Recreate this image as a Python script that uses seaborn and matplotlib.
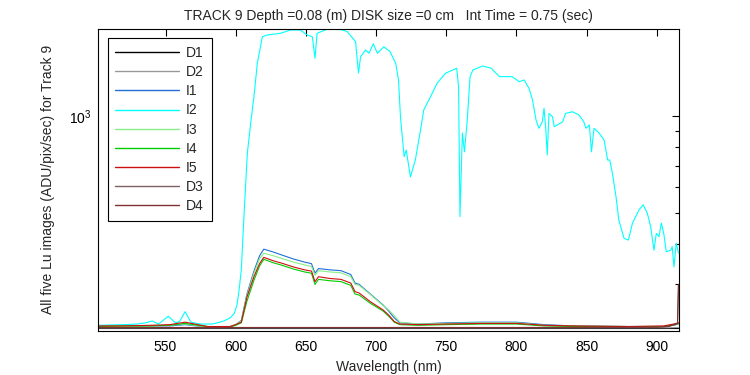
import numpy as np
import pandas as pd
import matplotlib
matplotlib.use('Agg')
import matplotlib.pyplot as plt
import matplotlib.ticker as mticker
import seaborn as sns

# Datos (longitud de onda en nm, senal en ADU/pix/sec)
wl_i2 = [502, 520, 530, 536, 540.5, 545, 552, 557, 560, 564, 568, 575, 583, 587, 591.5,
         596, 599, 601, 602.5, 604, 606, 608.3, 610.7, 613, 615.4, 619, 622.6, 632, 639,
         646, 651, 654.6, 656.5, 658, 665, 675, 679.5, 685.4, 686.6, 687.5, 689, 692.5,
         695, 698, 701, 705.5, 710, 714, 716, 717.4, 720, 721.5, 724.5, 728, 731.7, 734,
         738.8, 743.5, 749.5, 757.5, 758.8, 759.8, 761.5, 763, 765, 767, 769, 776, 782,
         788, 797, 802, 805.5, 809, 811.5, 814, 816, 818.5, 819.7, 821, 822, 823.2, 825.7,
         827, 833, 835, 840, 844.6, 848, 849.5, 852, 853.5, 855.3, 859, 862.5, 865, 866.5,
         868.4, 871, 873, 876.7, 879.8, 882.7, 887.4, 890.3, 893.3, 895.7, 898, 899.7,
         901.6, 903.3, 905, 906.8, 909.9, 911, 912.3, 913.9, 915.5]
i2 = [224, 225, 226, 228, 231, 226, 239, 228, 230, 247, 229, 226, 226, 228, 231,
      236, 244, 260, 290, 333, 500, 767, 951, 1148, 1458, 1763, 1785, 1807, 1849,
      1849, 1785, 1763, 1511, 1807, 1858, 1855, 1828, 1702, 1493, 1360, 1528, 1603,
      1566, 1675, 1566, 1641, 1584, 1458, 1294, 995, 748, 784, 647, 730, 905, 1044,
      1148, 1264, 1358, 1407, 1233, 487, 885, 774, 972, 1325, 1390, 1430, 1407,
      1325, 1325, 1278, 1294, 1219, 1121, 972, 916, 960, 1057, 905, 757, 1019, 995,
      926, 960, 1019, 1031, 1007, 960, 916, 938, 774, 916, 885, 842, 730, 730,
      664, 561, 475, 417, 412, 465, 511, 530, 499, 453, 383, 432,
      422, 465, 432, 379, 383, 393, 340, 403, 375]

wl_sig = [502, 520, 540, 553, 564, 580, 596, 600, 604, 608, 613, 617, 620, 627, 633, 641,
          649, 654, 656.5, 659, 667, 675, 682, 685, 688, 696, 705, 709, 713, 717, 730, 750,
          775, 800, 820, 840, 880, 905, 912, 915.5]
i1 = [222, 222, 223, 223, 225, 221, 222, 225, 232, 280, 330, 368, 386, 378, 370, 360,
      352, 348, 325, 336, 333, 331, 322, 303, 300, 280, 259, 248, 236, 228, 226, 228,
      229, 229, 225, 223, 222, 222, 224, 226]
i3 = [222, 222, 223, 224, 226, 221, 222, 225, 231, 277, 325, 360, 375, 368, 361, 352,
      345, 341, 320, 331, 328, 326, 317, 300, 298, 279, 258, 250, 240, 229, 226, 227,
      228, 228, 224, 223, 222, 222, 224, 226]
i4 = [222, 223, 223, 224, 227, 222, 221, 224, 228, 266, 309, 342, 359, 350, 344, 335,
      328, 325, 300, 311, 308, 306, 298, 280, 278, 262, 248, 239, 229, 225, 224, 225,
      226, 226, 223, 222, 222, 222, 225, 227]
i5 = [223, 223, 224, 225, 229, 222, 222, 225, 229, 274, 317, 348, 364, 355, 349, 340,
      333, 330, 306, 317, 313, 311, 303, 285, 282, 265, 250, 241, 230, 226, 225, 226,
      227, 227, 224, 223, 222, 223, 226, 228]

wl_dark = [502, 600, 700, 800, 900, 908, 914.8, 915.5]
d1 = [219.5, 219.5, 219.5, 219.5, 219.5, 219.5, 219.5, 219.5]
d2 = [220, 220, 220, 220, 220, 220, 220.5, 220.5]
d3 = [220, 220, 220, 220, 220.5, 222, 226, 300]
d4 = [220.5, 220.5, 220.5, 220.5, 221, 222, 227, 300]

orden = ['D1', 'D2', 'I1', 'I2', 'I3', 'I4', 'I5', 'D3', 'D4']
colores = ['#000000', '#999999', '#2070d8', '#00ffff', '#88ee88',
           '#00cc00', '#cc1010', '#806060', '#803030']

# Tabla larga para seaborn
series = {'D1': (wl_dark, d1), 'D2': (wl_dark, d2), 'I1': (wl_sig, i1), 'I2': (wl_i2, i2),
          'I3': (wl_sig, i3), 'I4': (wl_sig, i4), 'I5': (wl_sig, i5),
          'D3': (wl_dark, d3), 'D4': (wl_dark, d4)}
df = pd.concat([pd.DataFrame({'wl': x, 'val': y, 'serie': k}) for k, (x, y) in series.items()],
               ignore_index=True)

sns.set_style('white')
plt.rcParams['font.family'] = ['Liberation Sans', 'DejaVu Sans']
plt.rcParams['mathtext.fontset'] = 'custom'
plt.rcParams['mathtext.rm'] = 'Liberation Sans'

fig = plt.figure(figsize=(7.5, 3.75), dpi=100)
ax = fig.add_axes([0.1307, 0.1173, 0.7747, 0.8062])
sns.lineplot(data=df, x='wl', y='val', hue='serie', hue_order=orden,
             palette=dict(zip(orden, colores)), linewidth=0.8, sort=False,
             estimator=None, ax=ax)

ax.set_yscale('log')
ax.set_xlim(501.9, 915.9)
ax.set_ylim(215, 1867)
ax.set_xticks([550, 600, 650, 700, 750, 800, 850, 900])
ax.yaxis.set_major_locator(mticker.LogLocator(base=10))
ax.yaxis.set_minor_locator(mticker.LogLocator(base=10, subs=np.arange(2, 10)))
ax.yaxis.set_minor_formatter(mticker.NullFormatter())
ax.tick_params(which='both', direction='in', top=True, right=True, labelsize=10,
               colors='black', width=0.8)
ax.tick_params(which='major', length=5)
ax.tick_params(which='minor', length=3)
ax.tick_params(axis='x', pad=6.5)
ax.tick_params(axis='y', pad=5)
for s in ax.spines.values():
    s.set_color('black')
    s.set_linewidth(0.8)

ax.set_title('TRACK 9 Depth =0.08 (m) DISK size =0 cm   Int Time = 0.75 (sec)',
             fontsize=10, pad=6)
ax.set_xlabel('Wavelength (nm)', fontsize=10, labelpad=4)
ax.set_ylabel('All five Lu images (ADU/pix/sec) for Track 9', fontsize=10, labelpad=10)

leg = ax.legend(loc='upper left', fontsize=10, frameon=True, fancybox=False,
                edgecolor='black', framealpha=1, handlelength=4.6, handletextpad=0.5,
                labelspacing=0.37, borderpad=0.55, borderaxespad=0.7)
leg.get_frame().set_linewidth(0.8)
for h in leg.get_lines():
    h.set_linewidth(1.0)

fig.savefig('out.png', dpi=100, facecolor='white')
